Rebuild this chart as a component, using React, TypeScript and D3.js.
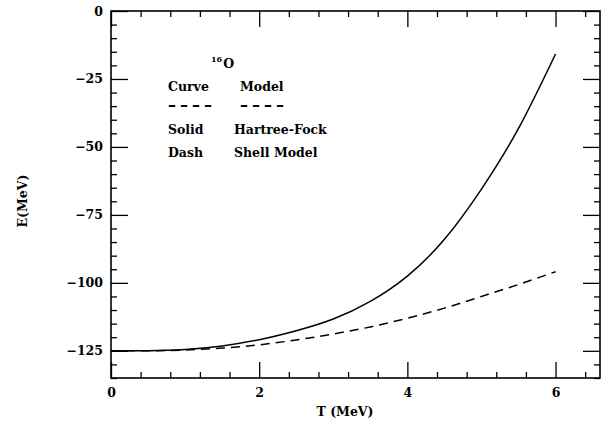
import React, { useRef, useEffect } from "react";
import * as d3 from "d3";

const tValues = [0, 0.5, 1.0, 1.5, 2.0, 2.5, 3.0, 3.5, 4.0, 4.5, 5.0, 5.5, 6.0];
const solidE = [-125, -124.95, -124.5, -123.2, -120.9, -117.6, -113.3, -106.8, -97.5, -84, -65.5, -43.2, -15.8];
const dashE = [-125, -124.97, -124.7, -124, -122.8, -121, -118.8, -116.2, -113, -109.3, -105, -100.6, -95.9];

const xMajor = [0, 2, 4, 6];
const yMajor = [0, -25, -50, -75, -100, -125];

const legendRows = [
  ["Curve", "Model"],
  ["––––", "––––"],
  ["Solid", "Hartree-Fock"],
  ["Dash", "Shell Model"],
];

const App = () => {
  const chart = useRef<SVGSVGElement | null>(null);

  const tWidth = 604;
  const tHeight = 422;
  const margin = { top: 11, right: 4, bottom: 44, left: 111 };
  const width = tWidth - margin.left - margin.right;
  const height = tHeight - margin.top - margin.bottom;
  const font = "'DejaVu Serif', serif";

  useEffect(() => {
    const root = d3.select(chart.current);
    root.selectAll("*").remove();

    const svg = root
      .append("g")
      .attr("transform", `translate(${margin.left}, ${margin.top})`);

    const x = d3.scaleLinear().domain([0, 6.6]).range([0, width]);
    const y = d3.scaleLinear().domain([-135, 0]).range([height, 0]);

    const xMinor = d3.range(0, 6.6, 0.4).filter((v) => !xMajor.some((m) => Math.abs(m - v) < 1e-6));
    const yMinor = d3.range(-135, 0.1, 5).filter((v) => v % 25 !== 0);

    const styleAxis = (g: any, labels: boolean) => {
      g.select(".domain").remove();
      g.selectAll("line").attr("stroke", "#000").attr("stroke-width", 1.3);
      g.selectAll("text")
        .attr("fill", "#000")
        .style("font-family", font)
        .style("font-weight", "bold")
        .style("font-size", "12.5px");
      if (!labels) g.selectAll("text").remove();
    };

    // bottom
    svg.append("g").attr("transform", `translate(0, ${height})`)
      .call(d3.axisBottom(x).tickValues(xMajor).tickSizeInner(-16).tickSizeOuter(0).tickPadding(10).tickFormat(d3.format("d")))
      .call((g: any) => styleAxis(g, true));
    svg.append("g").attr("transform", `translate(0, ${height})`)
      .call(d3.axisBottom(x).tickValues(xMinor).tickSizeInner(-6).tickSizeOuter(0))
      .call((g: any) => styleAxis(g, false));
    // top
    svg.append("g")
      .call(d3.axisTop(x).tickValues(xMajor).tickSizeInner(-16).tickSizeOuter(0))
      .call((g: any) => styleAxis(g, false));
    svg.append("g")
      .call(d3.axisTop(x).tickValues(xMinor).tickSizeInner(-6).tickSizeOuter(0))
      .call((g: any) => styleAxis(g, false));
    // left
    svg.append("g")
      .call(d3.axisLeft(y).tickValues(yMajor).tickSizeInner(-17).tickSizeOuter(0).tickPadding(8).tickFormat(d3.format("d")))
      .call((g: any) => styleAxis(g, true));
    svg.append("g")
      .call(d3.axisLeft(y).tickValues(yMinor).tickSizeInner(-6).tickSizeOuter(0))
      .call((g: any) => styleAxis(g, false));
    // right
    svg.append("g").attr("transform", `translate(${width}, 0)`)
      .call(d3.axisRight(y).tickValues(yMajor).tickSizeInner(-17).tickSizeOuter(0))
      .call((g: any) => styleAxis(g, false));
    svg.append("g").attr("transform", `translate(${width}, 0)`)
      .call(d3.axisRight(y).tickValues(yMinor).tickSizeInner(-6).tickSizeOuter(0))
      .call((g: any) => styleAxis(g, false));

    svg.append("rect")
      .attr("width", width)
      .attr("height", height)
      .attr("fill", "none")
      .attr("stroke", "#000")
      .attr("stroke-width", 1.6);

    const line = d3.line<number>()
      .x((d, i) => x(tValues[i]))
      .y((d) => y(d))
      .curve(d3.curveNatural);

    svg.append("path")
      .attr("d", line(solidE))
      .attr("fill", "none")
      .attr("stroke", "#000")
      .attr("stroke-width", 1.5);

    svg.append("path")
      .attr("d", line(dashE))
      .attr("fill", "none")
      .attr("stroke", "#000")
      .attr("stroke-width", 1.5)
      .attr("stroke-dasharray", "9,6");

    // axis titles
    root.append("text")
      .attr("x", 345)
      .attr("y", 416)
      .attr("text-anchor", "middle")
      .style("font-family", font)
      .style("font-weight", "bold")
      .style("font-size", "12.5px")
      .text("T (MeV)");

    root.append("text")
      .attr("transform", "translate(27, 201) rotate(-90)")
      .attr("text-anchor", "middle")
      .style("font-family", font)
      .style("font-weight", "bold")
      .style("font-size", "12.5px")
      .text("E(MeV)");

    // legend block
    const iso = root.append("text")
      .attr("x", 211)
      .attr("y", 68)
      .style("font-family", font)
      .style("font-weight", "bold")
      .style("font-size", "12.5px");
    iso.append("tspan").attr("font-size", "8px").attr("dy", "-6").text("16");
    iso.append("tspan").attr("dy", "6").attr("dx", "1").text("O");

    const rowY = [91, 111, 134, 157];
    legendRows.forEach((row, i) => {
      const isRule = i === 1;
      [0, 1].forEach((c) => {
        root.append("text")
          .attr("x", c === 0 ? 168 : i < 2 ? 240 : 234)
          .attr("y", rowY[i])
          .style("font-family", font)
          .style("font-weight", "bold")
          .style("font-size", isRule ? "16px" : "12.5px")
          .style("letter-spacing", isRule ? "4px" : null)
          .text(row[c]);
      });
    });
  }, []);

  return (
    <div id="chartD3">
      <svg
        ref={chart}
        width={tWidth}
        height={tHeight}
        style={{ position: "absolute", left: 0, top: 0, background: "#fff" }}
      ></svg>
    </div>
  );
};

export default App;
